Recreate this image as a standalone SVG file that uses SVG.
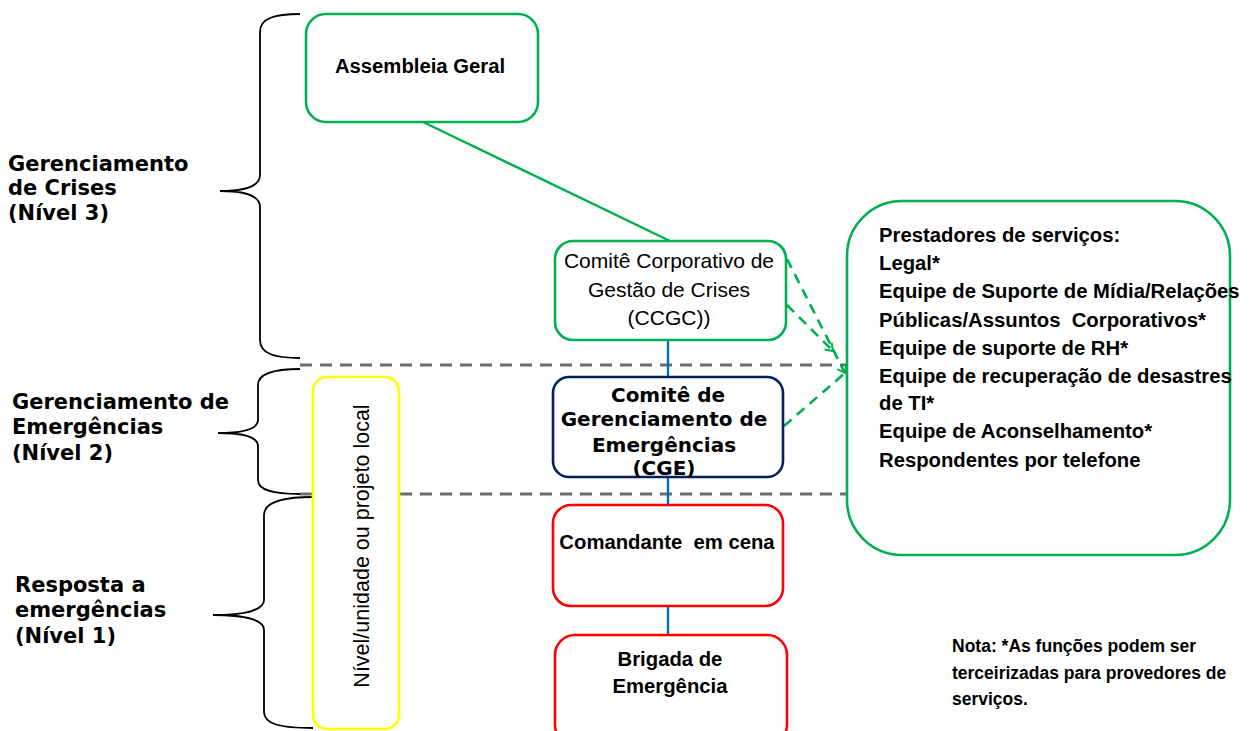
<svg xmlns="http://www.w3.org/2000/svg" width="1253" height="731" viewBox="0 0 1253 731">
<defs>
<style>
.bg{fill:#ffffff}
.box{fill:#ffffff;stroke-width:2.6}
.g{stroke:#00B050}
.r{stroke:#FF0000}
.y{stroke:#FFFF00}
.n{stroke:#002060}
.brace{fill:none;stroke:#000000;stroke-width:1.8}
.sep{stroke:#6D6D6D;stroke-width:3;stroke-dasharray:12 8;fill:none}
.blue{stroke:#0070C0;stroke-width:2.4;fill:none}
.gline{stroke:#00B050;stroke-width:2.4;fill:none}
.gdash{stroke:#00B050;stroke-width:2.6;stroke-dasharray:10 7;fill:none}
.lvl{font-family:"DejaVu Sans",Verdana,sans-serif;font-weight:bold;font-size:21px;fill:#000}
.cge{font-family:"DejaVu Sans",Verdana,sans-serif;font-weight:bold;font-size:20px;fill:#000;text-anchor:middle}
.cb{font-family:"Liberation Sans",Arial,sans-serif;font-weight:bold;font-size:20.3px;fill:#000;white-space:pre}
.cr{font-family:"Liberation Sans",Arial,sans-serif;font-size:21px;fill:#000;text-anchor:middle}
.mid{text-anchor:middle}
.note{font-family:"Liberation Sans",Arial,sans-serif;font-weight:bold;font-size:17.5px;fill:#000}
.vert{font-family:"Liberation Sans",Arial,sans-serif;font-size:21.5px;fill:#000;text-anchor:middle}
</style>
<marker id="arr" markerWidth="12" markerHeight="12" refX="9" refY="6" orient="auto" markerUnits="userSpaceOnUse">
<path d="M2,1 L9,6 L2,11" fill="none" stroke="#00B050" stroke-width="2"/>
</marker>
</defs>
<rect class="bg" x="0" y="0" width="1253" height="731"/>

<g id="braces">
<path class="brace" d="M300,14 C275,14 260,18 260,32 L260,175 C260,186 245,191 220,191 C245,191 260,196 260,207 L260,340 C260,354 275,358 300,358"/>
<path class="brace" d="M300,369 C272,369 258,374 258,385 L258,420 C258,429 243,433 218,433 C243,433 258,437 258,446 L258,480 C258,490 272,494 300,494"/>
<path class="brace" d="M313,497 C280,497 264,503 264,515 L264,600 C264,610 245,615 213,615 C245,615 264,620 264,630 L264,712 C264,724 280,728 313,728"/>
</g>

<g id="level-labels">
<text class="lvl" x="8" y="171">Gerenciamento</text>
<text class="lvl" x="8" y="195">de Crises</text>
<text class="lvl" x="8" y="220">(Nível 3)</text>
<text class="lvl" x="12" y="409">Gerenciamento de</text>
<text class="lvl" x="12" y="434">Emergências</text>
<text class="lvl" x="12" y="460">(Nível 2)</text>
<text class="lvl" x="15" y="592">Resposta a</text>
<text class="lvl" x="15" y="617">emergências</text>
<text class="lvl" x="15" y="643">(Nível 1)</text>
</g>

<g id="connectors">
<line class="sep" x1="300" y1="365" x2="846" y2="365"/>
<line class="sep" x1="300" y1="494" x2="846" y2="494"/>
<line class="gline" x1="423" y1="122" x2="670" y2="241"/>
<line class="blue" x1="668" y1="340" x2="668" y2="378"/>
<line class="blue" x1="668" y1="477" x2="668" y2="506"/>
<line class="blue" x1="668" y1="606" x2="668" y2="635"/>
<line class="gdash" x1="787" y1="259" x2="845" y2="373" marker-end="url(#arr)"/>
<line class="gdash" x1="787" y1="305" x2="833" y2="351" marker-end="url(#arr)"/>
<line class="gdash" x1="784" y1="426" x2="845" y2="373"/>
</g>

<g id="node-assembleia">
<rect class="box g" x="306" y="14" width="232" height="108" rx="20"/>
<text class="cb mid" x="420" y="73">Assembleia Geral</text>
</g>

<g id="node-ccgc">
<rect class="box g" x="555" y="241" width="231" height="99" rx="18"/>
<text class="cr" x="669" y="268">Comitê Corporativo de</text>
<text class="cr" x="669" y="297">Gestão de Crises</text>
<text class="cr" x="669" y="325">(CCGC))</text>
</g>

<g id="node-cge">
<rect class="box n" x="553" y="377" width="230" height="100" rx="16"/>
<text class="cge" x="668" y="402">Comitê de</text>
<text class="cge" x="664" y="426">Gerenciamento de</text>
<text class="cge" x="664" y="452">Emergências</text>
<text class="cge" x="664" y="475">(CGE)</text>
</g>

<g id="node-nivel-local">
<rect class="box y" x="313" y="377" width="86" height="352" rx="14"/>
<text class="vert" transform="translate(369,546) rotate(-90)" x="0" y="0">Nível/unidade ou projeto local</text>
</g>

<g id="node-comandante">
<rect class="box r" x="553" y="505" width="230" height="101" rx="18"/>
<text class="cb mid" x="667" y="549">Comandante  em cena</text>
</g>

<g id="node-brigada">
<rect class="box r" x="555" y="635" width="232" height="110" rx="20"/>
<text class="cb mid" x="670" y="666">Brigada de</text>
<text class="cb mid" x="670" y="693">Emergência</text>
</g>

<g id="node-prestadores">
<rect class="box g" x="847" y="201" width="383" height="354" rx="55"/>
<text class="cb" x="879" y="242">Prestadores de serviços:</text>
<text class="cb" x="879" y="270">Legal*</text>
<text class="cb" x="879" y="298">Equipe de Suporte de Mídia/Relações</text>
<text class="cb" x="879" y="327">Públicas/Assuntos  Corporativos*</text>
<text class="cb" x="879" y="355">Equipe de suporte de RH*</text>
<text class="cb" x="879" y="383">Equipe de recuperação de desastres</text>
<text class="cb" x="879" y="410">de TI*</text>
<text class="cb" x="879" y="438">Equipe de Aconselhamento*</text>
<text class="cb" x="879" y="467">Respondentes por telefone</text>
</g>

<g id="note">
<text class="note" x="952" y="652">Nota: *As funções podem ser</text>
<text class="note" x="952" y="679">terceirizadas para provedores de</text>
<text class="note" x="952" y="705">serviços.</text>
</g>
</svg>
